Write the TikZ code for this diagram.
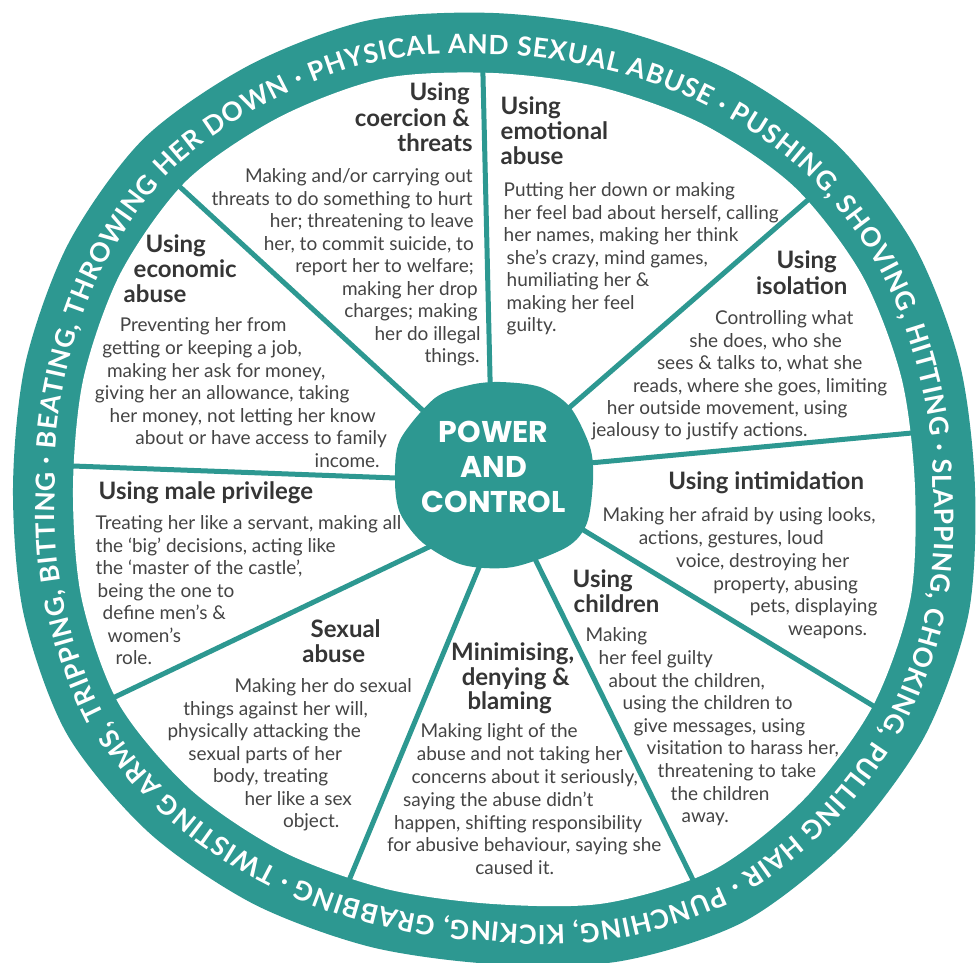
\documentclass[tikz,border=0pt]{standalone}
\usepackage{fontspec}
\setmainfont{Lato}
\newfontfamily\ringfont{Lato}
\newfontfamily\hubfont{Poppins}
\usetikzlibrary{decorations.text}
\definecolor{wheel}{HTML}{2D9891}
\definecolor{bodytext}{HTML}{444444}
\definecolor{headtext}{HTML}{353535}
\newcommand\lineL[2]{\hbox to 0pt{\kern#1pt\relax#2\hss}}
\newcommand\lineR[2]{\hbox to 0pt{\kern#1pt\relax\llap{#2}\hss}}
\newcommand\lineC[2]{\hbox to 0pt{\kern#1pt\relax\hbox to 0pt{\hss#2\hss}\hss}}
\newcommand\blk[2]{\vtop{\baselineskip=#1pt\relax\lineskiplimit=-100pt\relax\lineskip=0pt\relax#2}}
\newcommand\bodyf{\fontsize{19}{22.6}\selectfont}
\newcommand\headf{\bfseries\fontsize{24}{25}\selectfont}
\makeatletter
\def\rinarr{{422,423,426,426,420,415,415,424,428,434,430,424,420,426,432,427,420,415,416,430,441,440,438,432}}
\pgfmathdeclarefunction{rin}{1}{%
  \begingroup
  \pgfmathsetmacro\rw@a{mod(#1+720,360)}%
  \pgfmathtruncatemacro\rw@i{floor(\rw@a/15)}%
  \pgfmathsetmacro\rw@f{\rw@a/15-\rw@i}%
  \pgfmathtruncatemacro\rw@j{mod(\rw@i+1,24)}%
  \pgfmathparse{\rinarr[\rw@i]*(1-\rw@f)+\rinarr[\rw@j]*\rw@f}%
  \pgfmath@smuggleone\pgfmathresult
  \endgroup}
\makeatother
\tikzset{
  spokeline/.style={draw=wheel, line width=5pt},
  bodytxt/.style={anchor=base west, inner sep=0pt, text=bodytext, font=\bodyf},
  headtxt/.style={anchor=base west, inner sep=0pt, text=headtext, font=\headf},
}
\begin{document}
\begin{tikzpicture}[x=1pt,y=1pt]
\useasboundingbox (0,0) rectangle (978,963);
\fill[white] (0,0) rectangle (978,963);
% wheel ring and inner disc
\begin{scope}[shift={(493,475)}]
  \fill[wheel] plot[smooth cycle, variable=\t, samples at={0,15,...,345}]
    ({(rin(\t)+60)*cos(\t)},{(rin(\t)+60)*sin(\t)});
  \fill[white] plot[smooth cycle, variable=\t, samples at={0,15,...,345}]
    ({rin(\t)*cos(\t)},{rin(\t)*sin(\t)});
\end{scope}
% spokes
\coordinate (s1a) at (491,{963-420});   \coordinate (s1b) at (482.5,{963-55});
\coordinate (s2a) at (468,{963-452});   \coordinate (s2b) at (160.8,{963-169.3});
\coordinate (s3a) at (522.4,{963-448.4}); \coordinate (s3b) at (827,{963-183.4});
\coordinate (s4a) at (525.6,{963-469}); \coordinate (s4b) at (931.3,{963-431.2});
\coordinate (s5a) at (460.6,{963-480.4}); \coordinate (s5b) at (53.6,{963-465.3});
\coordinate (s6a) at (473.8,{963-525.6}); \coordinate (s6b) at (96.3,{963-705.9});
\coordinate (s7a) at (493,{963-533.7}); \coordinate (s7b) at (342.2,{963-896.8});
\coordinate (s8a) at (513.6,{963-515.5}); \coordinate (s8b) at (702.4,{963-899});
\coordinate (s9a) at (521,{963-492.2}); \coordinate (s9b) at (892.7,{963-717.7});
\foreach \s in {1,...,9} { \draw[spokeline] (s\s a) -- (s\s b); }
% hub
\fill[wheel] plot[smooth cycle] coordinates {(435,565) (470,578) (500,581) (540,576) (570,556) (590,516) (593,483) (587,440) (567,416) (513,396) (463,398) (423,420) (400,450) (395,483) (400,523)};
\node[anchor=base west, inner sep=0pt, text=white, font=\hubfont\bfseries\fontsize{30}{35}\selectfont] (hubtext) at (0,{963-443})
  {\blk{35}{\lineC{493}{POWER}\lineC{493}{AND}\lineC{493}{CONTROL}}};
% coercion
\node[headtxt] (coerhead) at (0,{963-101}) {\blk{25.3}{\lineR{469}{Using}\lineR{469}{coercion \&}\lineR{472}{threats}}};
\node[bodytxt] (coerbody) at (0,{963-183}) {\blk{22.5}{%
  \lineR{472}{Making and/or carrying out}%
  \lineR{472}{threats to do something to hurt}%
  \lineR{473}{her; threatening to leave}%
  \lineR{473}{her, to commit suicide, to}%
  \lineR{473}{report her to welfare;}%
  \lineR{477}{making her drop}%
  \lineR{477}{charges; making}%
  \lineR{480}{her do illegal}%
  \lineR{479}{things.}}};
% emotional
\node[headtxt] (emohead) at (0,{963-115}) {\blk{25}{\lineL{500}{Using}\lineL{500}{emotional}\lineL{500}{abuse}}};
\node[bodytxt] (emobody) at (0,{963-197}) {\blk{22.5}{%
  \lineL{503}{Putting her down or making}%
  \lineL{503}{her feel bad about herself, calling}%
  \lineL{503}{her names, making her think}%
  \lineL{506}{she’s crazy, mind games,}%
  \lineL{506}{humiliating her \&}%
  \lineL{506}{making her feel}%
  \lineL{506}{guilty.}}};
% economic
\node[headtxt] (ecohead) at (0,{963-253}) {\blk{25}{\lineL{145}{Using}\lineL{133}{economic}\lineL{123}{abuse}}};
\node[bodytxt] (ecobody) at (0,{963-332}) {\blk{22.6}{%
  \lineC{202.5}{Preventing her from}%
  \lineC{201.5}{getting or keeping a job,}%
  \lineC{215.5}{making her ask for money,}%
  \lineC{221.5}{giving her an allowance, taking}%
  \lineC{242}{her money, not letting her know}%
  \lineC{260.5}{about or have access to family}%
  \lineR{379}{income.}}};
% isolation
\node[headtxt] (isohead) at (0,{963-269}) {\blk{26}{\lineC{806}{Using}\lineC{801}{isolation}}};
\node[bodytxt] (isobody) at (0,{963-325}) {\blk{22.4}{%
  \lineC{783.5}{Controlling what}%
  \lineC{765}{she does, who she}%
  \lineC{759}{sees \& talks to, what she}%
  \lineC{759.5}{reads, where she goes, limiting}%
  \lineC{726.5}{her outside movement, using}%
  \lineC{699}{jealousy to justify actions.}}};
% intimidation
\node[headtxt] (intihead) at (0,{963-490}) {\blk{25}{\lineC{765.5}{Using intimidation}}};
\node[bodytxt] (intibody) at (0,{963-522}) {\blk{22.7}{%
  \lineC{738.5}{Making her afraid by using looks,}%
  \lineC{730.5}{actions, gestures, loud}%
  \lineC{762}{voice, destroying her}%
  \lineC{785}{property, abusing}%
  \lineC{813}{pets, displaying}%
  \lineC{827}{weapons.}}};
% male privilege
\node[headtxt] (malehead) at (0,{963-500}) {\blk{25}{\lineL{98}{Using male privilege}}};
\node[bodytxt] (malebody) at (0,{963-530}) {\blk{22.5}{%
  \lineL{95}{Treating her like a servant, making all}%
  \lineL{95}{the ‘big’ decisions, acting like}%
  \lineL{95}{the ‘master of the castle’,}%
  \lineL{97}{being the one to}%
  \lineL{102}{define men’s \&}%
  \lineL{107}{women’s}%
  \lineL{115}{role.}}};
% sexual abuse
\node[headtxt] (sexhead) at (0,{963-638}) {\blk{25}{\lineC{345}{Sexual}\lineC{333}{abuse}}};
\node[bodytxt] (sexbody) at (0,{963-693}) {\blk{22.5}{%
  \lineC{322.5}{Making her do sexual}%
  \lineC{275}{things against her will,}%
  \lineC{263.5}{physically attacking the}%
  \lineC{264.5}{sexual parts of her}%
  \lineC{270}{body, treating}%
  \lineC{297.5}{her like a sex}%
  \lineC{310.5}{object.}}};
% minimising
\node[headtxt] (minihead) at (0,{963-661}) {\blk{24.5}{\lineC{512}{Minimising,}\lineC{515}{denying \&}\lineC{509}{blaming}}};
\node[bodytxt] (minibody) at (0,{963-738}) {\blk{22.8}{%
  \lineC{498.5}{Making light of the}%
  \lineC{519}{abuse and not taking her}%
  \lineC{524}{concerns about it seriously,}%
  \lineC{497.5}{saying the abuse didn’t}%
  \lineC{517.5}{happen, shifting responsibility}%
  \lineC{523.5}{for abusive behaviour, saying she}%
  \lineC{514}{caused it.}}};
% children
\node[headtxt] (chihead) at (0,{963-588}) {\blk{25}{\lineL{572}{Using}\lineL{573}{children}}};
\node[bodytxt] (chibody) at (0,{963-642}) {\blk{22.6}{%
  \lineL{585}{Making}%
  \lineL{598}{her feel guilty}%
  \lineL{608}{about the children,}%
  \lineL{622}{using the children to}%
  \lineL{633}{give messages, using}%
  \lineL{646}{visitation to harass her,}%
  \lineL{657}{threatening to take}%
  \lineL{670}{the children}%
  \lineL{681}{away.}}};
% ring text along a polyline
\begin{scope}[shift={(493,475)}]
  \path[decorate, decoration={text along path, text color=white, text align=fit to path,
    text={|\ringfont\bfseries\fontsize{26.5}{26.5}\selectfont|PHYSICAL AND SEXUAL ABUSE · PUSHING, SHOVING, HITTING · SLAPPING, CHOKING, PULLING HAIR · PUNCHING, KICKING, GRABBING · TWISTING ARMS, TRIPPING, BITTING · BEATING, THROWING HER DOWN ·}}]
    plot[variable=\t, samples at={114,112,...,-244,-245}]
    ({(rin(\t)+18)*cos(\t)},{(rin(\t)+18)*sin(\t)});
\end{scope}
\end{tikzpicture}
\end{document}
